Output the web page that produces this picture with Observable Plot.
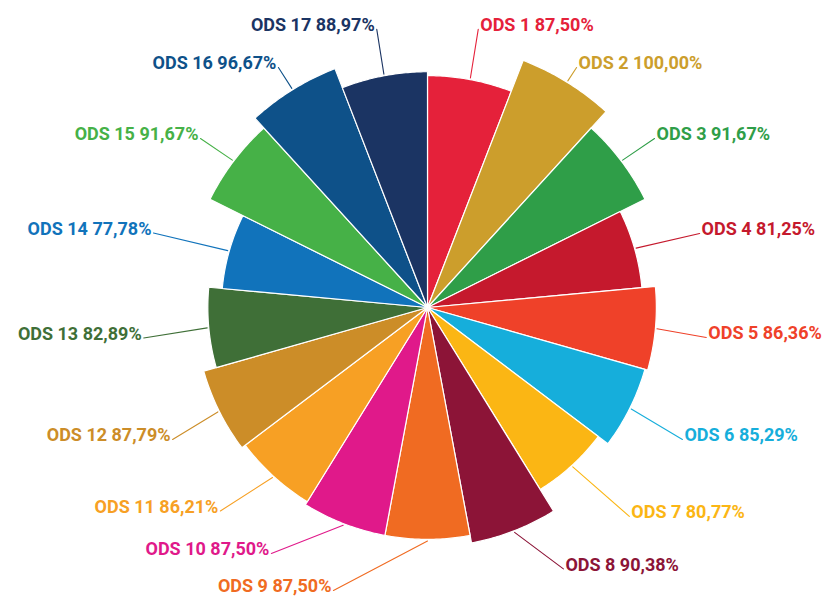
<!DOCTYPE html>
<html>
<head>
<meta charset="utf-8">
<script src="https://cdn.jsdelivr.net/npm/d3@7"></script>
<script src="https://cdn.jsdelivr.net/npm/@observablehq/plot@0.6"></script>
<style>
  html, body { margin: 0; padding: 0; background: #fff; }
  #chart { width: 829px; height: 597px; }
</style>
</head>
<body>
<div id="chart"></div>
<script>
// ---- data ----
const goals = ["ODS 1","ODS 2","ODS 3","ODS 4","ODS 5","ODS 6","ODS 7","ODS 8","ODS 9",
               "ODS 10","ODS 11","ODS 12","ODS 13","ODS 14","ODS 15","ODS 16","ODS 17"];
const values = [87.50, 100.00, 91.67, 81.25, 86.36, 85.29, 80.77, 90.38, 87.50,
                87.50, 86.21, 87.79, 82.89, 77.78, 91.67, 96.67, 88.97];
const colors = ["#e5213a","#cc9e2c","#2f9e48","#c5192d","#ef4129","#16aedb","#fbb614","#8c1437","#f06b22",
                "#e0198a","#f7a024","#cc8d28","#3f6f37","#1173bb","#46b147","#0e5189","#1b3463"];

// ---- layout ----
const W = 829, H = 597, cx = 427, cy = 307;
const K = 265 / 100;              // pixels per percent of radius
const labelR = 287 / K;           // label ring, in value units
const labelNudge = [0,0,0,0,0,0,-2.5,-7,19,12,4,0,0,0,0,0,0]; // degrees, to avoid crowding at the bottom
const labelPush = [0,0,0,-2,-5,0,2,5,8,2,2,0,0,0,0,0,0];      // extra px outward/inward
const n = goals.length;
const step = 360 / n;
const rad = a => a * Math.PI / 180;

const slices = [];
const leaders = [];
const texts = [];
goals.forEach((g, i) => {
  const v = values[i];
  const a0 = i * step, a1 = (i + 1) * step, am = (i + 0.5) * step;
  slices.push({id: i, x: 0, y: 0, color: colors[i]});
  const N = 40;
  for (let k = 0; k <= N; k++) {
    const a = rad(a0 + (a1 - a0) * k / N);
    slices.push({id: i, x: v * Math.sin(a), y: v * Math.cos(a), color: colors[i]});
  }
  const la = am + labelNudge[i];
  const right = la < 180;
  const r = labelR + labelPush[i] / K;
  const lx = r * Math.sin(rad(la)), ly = r * Math.cos(rad(la));
  const gap = 2 / K;
  leaders.push({id: i, x: (v + 0.6) * Math.sin(rad(am)), y: (v + 0.6) * Math.cos(rad(am)), color: colors[i]});
  leaders.push({id: i, x: lx + (right ? -gap : gap), y: ly - 4 / K, color: colors[i]});
  texts.push({x: lx, y: ly, right, color: colors[i],
    label: `${g} ${v.toFixed(2).replace(".", ",")}%`});
});

const chart = Plot.plot({
  width: W, height: H, margin: 0,
  x: {domain: [-cx / K, (W - cx) / K], range: [0, W], axis: null},
  y: {domain: [-(H - cy) / K, cy / K], range: [H, 0], axis: null},
  color: {type: "identity"},
  style: {fontFamily: "Roboto, 'Open Sans', sans-serif", background: "#fff"},
  marks: [
    Plot.line(slices, {x: "x", y: "y", z: "id", fill: "color", stroke: "#fff", strokeWidth: 1.2, curve: "linear-closed"}),
    Plot.line(leaders, {x: "x", y: "y", z: "id", stroke: "color", strokeWidth: 1.1}),
    Plot.text(texts.filter(d => d.right), {x: "x", y: "y", text: "label", fill: "color", textAnchor: "start", fontSize: 18, fontWeight: 700}),
    Plot.text(texts.filter(d => !d.right), {x: "x", y: "y", text: "label", fill: "color", textAnchor: "end", fontSize: 18, fontWeight: 700})
  ]
});
document.getElementById("chart").appendChild(chart);
</script>
</body>
</html>
